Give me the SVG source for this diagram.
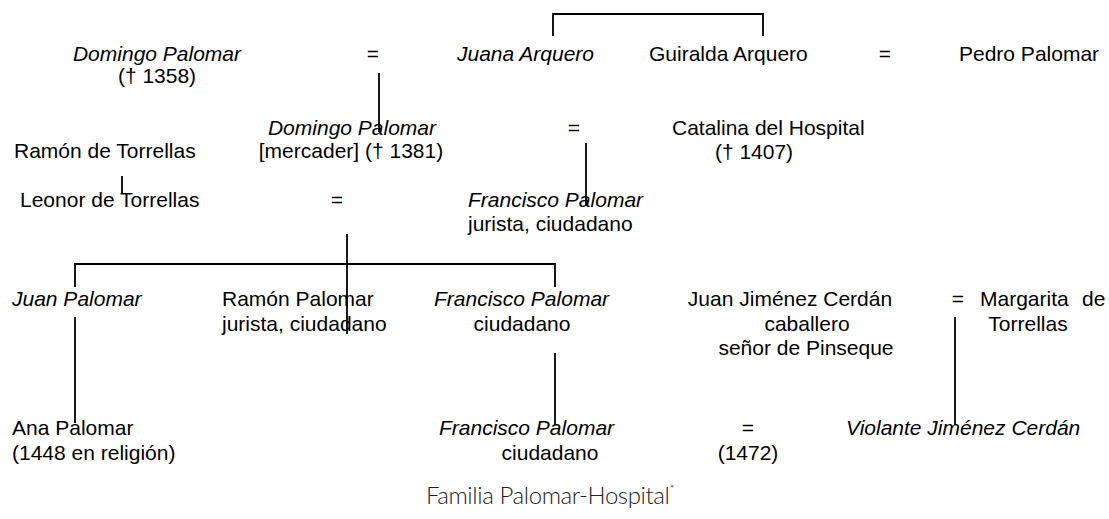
<svg xmlns="http://www.w3.org/2000/svg" width="1109" height="519" viewBox="0 0 1109 519">
<style>
text{font-family:"Liberation Sans",Arial,sans-serif;font-size:21px;fill:#000}
.i{font-style:italic}
.m{text-anchor:middle}
.ttl{font-family:"Lato","Noto Sans",sans-serif;font-size:24px;font-weight:300;fill:#222;letter-spacing:-0.4px}
.ln{stroke:#000;stroke-width:1.8;fill:none}
</style>
<rect width="1109" height="519" fill="#fff"/>
<g id="connectors">
<path class="ln" d="M553,36V14H763V36"/>
<path class="ln" d="M379,73V132"/>
<path class="ln" d="M586,143V206"/>
<path class="ln" d="M122,176V193"/>
<path class="ln" d="M347,234V334"/>
<path class="ln" d="M75,287V264H555V287"/>
<path class="ln" d="M75,317V423"/>
<path class="ln" d="M555,353V425"/>
<path class="ln" d="M955,317V425"/>
</g>
<g id="n-domingo1"><text class="i m" x="157" y="61">Domingo Palomar</text><text class="m" x="157" y="83">(† 1358)</text></g>
<g id="eq1"><text class="m" x="373" y="61">=</text></g>
<g id="n-juana"><text class="i" x="457" y="61">Juana Arquero</text></g>
<g id="n-guiralda"><text x="649" y="61">Guiralda Arquero</text></g>
<g id="eq2"><text class="m" x="885" y="61">=</text></g>
<g id="n-pedro"><text x="959" y="61">Pedro Palomar</text></g>
<g id="n-domingo2"><text class="i m" x="352" y="135">Domingo Palomar</text><text class="m" x="351" y="158">[mercader] († 1381)</text></g>
<g id="n-ramon-t"><text x="14" y="158">Ramón de Torrellas</text></g>
<g id="eq3"><text class="m" x="574" y="135">=</text></g>
<g id="n-catalina"><text x="672" y="135">Catalina del Hospital</text><text class="m" x="754" y="159">(† 1407)</text></g>
<g id="n-leonor"><text x="20" y="207">Leonor de Torrellas</text></g>
<g id="eq4"><text class="m" x="337" y="207">=</text></g>
<g id="n-francisco1"><text class="i" x="468" y="207">Francisco Palomar</text><text x="468" y="231">jurista, ciudadano</text></g>
<g id="n-juan"><text class="i" x="12" y="306">Juan Palomar</text></g>
<g id="n-ramon-p"><text x="222" y="306">Ramón Palomar</text><text x="222" y="331">jurista, ciudadano</text></g>
<g id="n-francisco2"><text class="i" x="434" y="306">Francisco Palomar</text><text class="m" x="522" y="331">ciudadano</text></g>
<g id="n-juan-jc"><text class="m" x="790" y="306">Juan Jiménez Cerdán</text><text class="m" x="807" y="331">caballero</text><text class="m" x="806" y="355">señor de Pinseque</text></g>
<g id="n-margarita"><text x="958" y="306" text-anchor="middle">=</text><text y="306"><tspan x="980">Margarita</tspan><tspan x="1082">de</tspan></text><text class="m" x="1028" y="331">Torrellas</text></g>
<g id="n-ana"><text x="12" y="435">Ana Palomar</text><text x="12" y="460">(1448 en religión)</text></g>
<g id="n-francisco3"><text class="i" x="439" y="435">Francisco Palomar</text><text class="m" x="550" y="460">ciudadano</text></g>
<g id="eq5"><text class="m" x="748" y="435">=</text><text class="m" x="748" y="460">(1472)</text></g>
<g id="n-violante"><text class="i" x="846" y="435">Violante Jiménez Cerdán</text></g>
<g id="title"><text class="ttl m" x="550" y="504">Familia Palomar-Hospital<tspan font-size="12" dy="-11">*</tspan></text></g>
</svg>
